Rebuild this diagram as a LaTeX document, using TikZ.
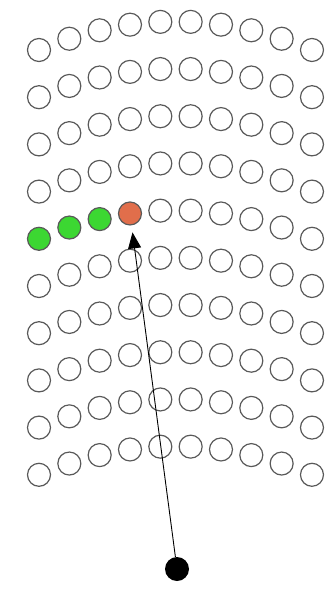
\documentclass[tikz,border=0pt]{standalone}
\usepackage{tikz}
\usetikzlibrary{arrows.meta}
\usepackage{xcolor}
\definecolor{litgreen}{RGB}{60,215,50}
\definecolor{hitorange}{RGB}{225,110,75}

\begin{document}
\begin{tikzpicture}[
    x=1pt, y=-1pt,
    cell/.style={circle, draw=black!65, line width=1.2pt, minimum size=23pt, inner sep=0pt},
    lit/.style={cell, fill=litgreen},
    hit/.style={cell, fill=hitorange},
    source/.style={circle, fill=black, minimum size=24pt, inner sep=0pt},
    ray/.style={-{Triangle[length=16pt,width=13pt]}, line width=0.9pt, shorten >=7pt}
]
\useasboundingbox (0,0) rectangle (327,589);

% Curved grid of cells
\foreach \r in {1,...,10}{
  \foreach \c in {1,...,10}{
    \pgfmathsetmacro{\cx}{39+(\c-1)*30.33}
    \pgfmathsetmacro{\cy}{50+(\r-1)*47.2-28.5*(1-((\cx-175.5)/136.5)^2)}
    \def\sty{cell}
    \ifnum\r=5 \ifnum\c<4 \def\sty{lit}\fi \ifnum\c=4 \def\sty{hit}\fi\fi
    \node[\sty] (c-\r-\c) at (\cx,\cy) {};
  }
}

% Source
\node[source] (src) at (177,569) {};

% Ray to the hit cell
\draw[ray] (src) -- (c-5-4);

\end{tikzpicture}
\end{document}
